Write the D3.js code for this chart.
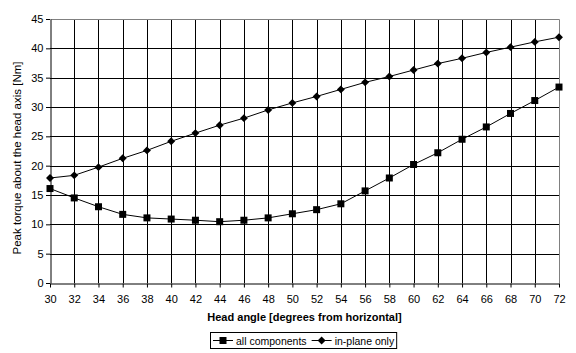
<!DOCTYPE html>
<html lang='en'>
<head>
  <meta charset='UTF-8'>
  <title>Peak torque</title>
  <style>
    * { margin: 0; padding: 0; }
    body { background: #fff; }
    #chart { width: 576px; height: 353px; }
    text { font-family: 'Liberation Sans', Arial, sans-serif; }
  </style>
</head>
<body>
<script src='https://cdn.jsdelivr.net/npm/d3@7/dist/d3.min.js'></script>
<div id='chart'></div>
<script>
  const angles = [30, 32, 34, 36, 38, 40, 42, 44, 46, 48, 50, 52, 54, 56, 58, 60, 62, 64, 66, 68, 70, 72]
  const allComponents = [16.1, 14.5, 13.0, 11.7, 11.1, 10.9, 10.7, 10.45, 10.7, 11.1, 11.8, 12.5, 13.5, 15.7, 17.9, 20.2, 22.2, 24.5, 26.6, 28.9, 31.1, 33.4]
  const inPlaneOnly = [17.9, 18.35, 19.75, 21.25, 22.6, 24.15, 25.55, 26.9, 28.1, 29.5, 30.7, 31.8, 33.0, 34.2, 35.2, 36.3, 37.4, 38.3, 39.3, 40.2, 41.1, 41.9]
  const yTicks = [0, 5, 10, 15, 20, 25, 30, 35, 40, 45]
  const seriesNames = ['all components', 'in-plane only']

  let margin = {top: 19, right: 17, bottom: 70, left: 50}
  let width = 576 - margin.left - margin.right
  let height = 353 - margin.top - margin.bottom

  let svg = d3.select('#chart')
  .append('svg')
  .attr('width', 576)
  .attr('height', 353)

  svg.append('rect')
  .attr('width', 576)
  .attr('height', 353)
  .style('fill', '#fff')

  let chart = svg.append('g')
  .attr('transform', 'translate(' + margin.left + ',' + margin.top + ')')

  let x = d3.scaleLinear().domain([30, 72]).range([0, width])
  let y = d3.scaleLinear().domain([0, 45]).range([height, 0])

  // 网格
  chart.append('g')
  .selectAll('line')
  .data(angles.slice(1, -1))
  .join('line')
  .attr('x1', d => Math.round(x(d)) + 0.5)
  .attr('x2', d => Math.round(x(d)) + 0.5)
  .attr('y1', 0)
  .attr('y2', height)
  .attr('stroke', '#000')
  chart.append('g')
  .selectAll('line')
  .data(yTicks.slice(1, -1))
  .join('line')
  .attr('x1', 0)
  .attr('x2', width)
  .attr('y1', d => Math.round(y(d)) + 0.5)
  .attr('y2', d => Math.round(y(d)) + 0.5)
  .attr('stroke', '#000')

  // 边框 (top/right gray)
  chart.append('path')
  .attr('d', 'M0.5,0.5H' + (Math.round(width) + 0.5) + 'V' + height)
  .attr('fill', 'none')
  .attr('stroke', '#808080')

  // x axis
  let xAxis = chart.append('g')
  .attr('transform', 'translate(0,' + (Math.round(height) + 0.5) + ')')
  .call(d3.axisBottom(x).tickValues(angles).tickSize(4).tickPadding(8).tickSizeOuter(0))
  // y axis
  let yAxis = chart.append('g')
  .attr('transform', 'translate(0.5,0)')
  .call(d3.axisLeft(y).tickValues(yTicks).tickSize(4).tickPadding(3).tickSizeOuter(0))
  ;[xAxis, yAxis].forEach(a => {
    a.selectAll('path,line').attr('stroke', '#000')
    a.selectAll('text').attr('fill', '#000').style('font-size', '11px')
      .style('font-family', "'Liberation Sans', Arial, sans-serif")
  })
  yAxis.selectAll('.tick line').attr('transform', 'translate(-0.5,0)')

  // titles
  svg.append('text')
  .attr('x', margin.left + width / 2)
  .attr('y', 321)
  .attr('text-anchor', 'middle')
  .style('font-size', '11px')
  .style('font-weight', 'bold')
  .text('Head angle [degrees from horizontal]')
  svg.append('text')
  .attr('transform', 'translate(21,158) rotate(-90)')
  .attr('text-anchor', 'middle')
  .style('font-size', '11.5px')
  .text('Peak torque about the head axis [Nm]')

  let line = d3.line().x((d, i) => x(angles[i])).y(d => y(d))
  let squareSym = d3.symbol().type(d3.symbolSquare).size(49)
  let diamondSym = d3.symbol().type(d3.symbolDiamond2).size(40)

  function drawSeries (vals, sym) {
    chart.append('path')
    .attr('d', line(vals))
    .attr('fill', 'none')
    .attr('stroke', '#000')
    .attr('stroke-width', 1)
    chart.append('g')
    .selectAll('path')
    .data(vals)
    .join('path')
    .attr('transform', (d, i) => 'translate(' + x(angles[i]) + ',' + y(d) + ')')
    .attr('d', sym)
    .attr('fill', '#000')
  }
  drawSeries(allComponents, squareSym)
  drawSeries(inPlaneOnly, diamondSym)

  // 图例
  let legend = svg.append('g').attr('transform', 'translate(210,332)')
  let legendBox = legend.append('rect')
  .attr('x', 0.5).attr('y', 0.5)
  .attr('height', 16)
  .attr('fill', '#fff')
  .attr('stroke', '#000')
  let lx = 3
  ;[squareSym, diamondSym].forEach((sym, i) => {
    legend.append('line')
    .attr('x1', lx).attr('x2', lx + 20)
    .attr('y1', 8.5).attr('y2', 8.5)
    .attr('stroke', '#000')
    legend.append('path')
    .attr('transform', 'translate(' + (lx + 10) + ',8.5)')
    .attr('d', sym)
    .attr('fill', '#000')
    let t = legend.append('text')
    .attr('x', lx + 23)
    .attr('y', 12.5)
    .style('font-size', '10.5px')
    .text(seriesNames[i])
    lx += 23 + t.node().getComputedTextLength() + 5
  })
  legendBox.attr('width', lx - 3)
</script>
</body>
</html>
